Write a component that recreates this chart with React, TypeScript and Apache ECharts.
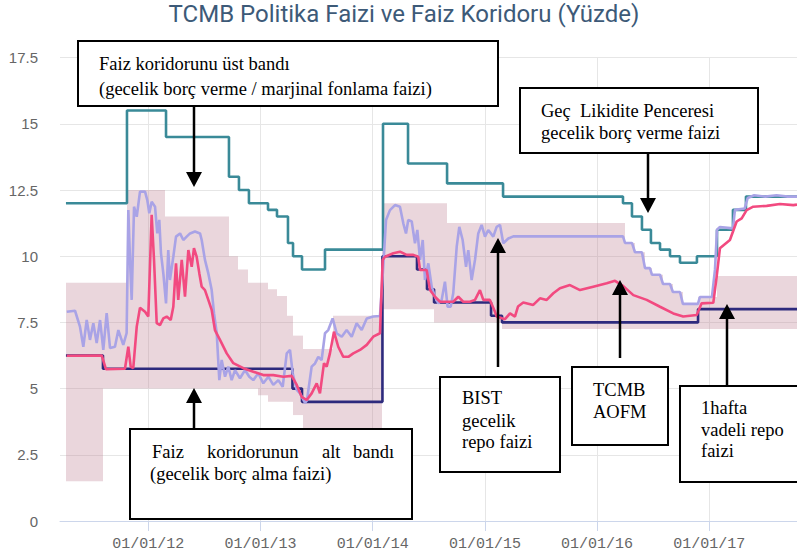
import React, { useEffect, useRef } from 'react';
import * as echarts from 'echarts';

const TITLE = 'TCMB Politika Faizi ve Faiz Koridoru (Yüzde)';
const X_MIN = 2011.213;
const X_MAX = 2017.782;
const xTickYears = [2012, 2013, 2014, 2015, 2016, 2017];
const xTickLabels = ['01/01/12', '01/01/13', '01/01/14', '01/01/15', '01/01/16', '01/01/17'];

// Late liquidity window lending rate (step changes: [year, %])
const lateLiquidityLending: [number, number][] = [
  [2011.266, 12.0], [2011.810, 15.5], [2012.158, 14.5], [2012.719, 13.0], [2012.808, 12.5],
  [2012.897, 12.0], [2013.067, 11.75], [2013.147, 11.5], [2013.245, 10.5], [2013.290, 10.0],
  [2013.370, 9.5], [2013.575, 10.25], [2014.092, 15.0], [2014.315, 13.5], [2014.663, 12.75],
  [2015.162, 12.25], [2016.231, 12.0], [2016.311, 11.5], [2016.400, 11.0], [2016.480, 10.5],
  [2016.561, 10.25], [2016.650, 10.0], [2016.739, 9.75], [2016.890, 10.0], [2017.069, 11.0],
  [2017.211, 11.75], [2017.327, 12.25], [2017.782, 12.25],
];

// One-week repo (policy) rate
const policyRate: [number, number][] = [
  [2011.266, 6.25], [2011.596, 5.75], [2013.285, 5.0], [2013.370, 4.5], [2014.087, 10.0],
  [2014.395, 9.5], [2014.484, 8.75], [2014.547, 8.25], [2015.055, 7.75], [2015.153, 7.5],
  [2016.900, 8.0], [2017.782, 8.0],
];

// Interest rate corridor (shaded)
const corridorDates = [
  2011.266, 2011.596, 2011.810, 2012.149, 2012.719, 2012.799, 2012.889, 2012.978, 2013.067,
  2013.147, 2013.236, 2013.290, 2013.379, 2013.646, 2014.087, 2014.547, 2014.663, 2015.153,
  2016.249, 2016.338, 2016.427, 2016.489, 2016.588, 2016.676, 2016.765, 2016.899, 2017.069,
  2017.782,
];
const corridorLower = [
  1.5, 5.0, 5.0, 5.0, 5.0, 5.0, 5.0, 4.75, 4.5,
  4.5, 4.5, 4.0, 3.5, 3.5, 8.0, 7.5, 7.5, 7.25,
  7.25, 7.25, 7.25, 7.25, 7.25, 7.25, 7.25, 7.25, 7.25,
  7.25,
];
const corridorUpper = [
  9.0, 9.0, 12.5, 11.5, 10.0, 9.5, 9.0, 9.0, 8.75,
  8.5, 7.75, 7.0, 6.5, 7.75, 12.0, 12.0, 11.25, 11.25,
  10.5, 10.15, 9.55, 9.3, 8.95, 8.65, 8.2, 8.46, 9.25,
  9.25,
];

// BIST overnight repo rate
const bistRepo: [number, number][] = [
  [2011.273, 7.90], [2011.347, 7.94], [2011.391, 7.34], [2011.421, 6.58], [2011.451, 7.59],
  [2011.480, 6.84], [2011.510, 7.47], [2011.540, 6.72], [2011.570, 7.59], [2011.599, 6.46],
  [2011.629, 7.85], [2011.659, 6.53], [2011.703, 6.58], [2011.733, 7.21], [2011.777, 6.65],
  [2011.807, 7.10], [2011.822, 11.74], [2011.837, 9.86], [2011.852, 8.35], [2011.873, 11.87],
  [2011.897, 11.49], [2011.926, 12.44], [2011.971, 12.44], [2011.991, 12.12], [2012.009, 11.62],
  [2012.030, 12.06], [2012.060, 11.87], [2012.080, 10.86], [2012.098, 11.37], [2012.113, 10.11],
  [2012.134, 9.35], [2012.158, 8.22], [2012.178, 10.23], [2012.193, 9.10], [2012.223, 9.98],
  [2012.247, 10.74], [2012.283, 10.86], [2012.312, 10.61], [2012.342, 10.74], [2012.372, 10.86],
  [2012.416, 10.93], [2012.461, 10.86], [2012.476, 10.61], [2012.505, 9.86], [2012.535, 9.35],
  [2012.565, 8.72], [2012.586, 7.84], [2012.610, 7.09], [2012.633, 5.32], [2012.654, 6.08],
  [2012.684, 5.45], [2012.713, 5.83], [2012.743, 5.32], [2012.773, 5.70], [2012.817, 5.39],
  [2012.862, 5.70], [2012.900, 5.45], [2012.936, 5.32], [2012.980, 5.58], [2013.025, 5.20],
  [2013.070, 5.45], [2013.114, 5.14], [2013.159, 5.32], [2013.198, 5.07], [2013.234, 6.33],
  [2013.263, 6.46], [2013.287, 5.58], [2013.323, 4.95], [2013.352, 4.82], [2013.397, 4.46],
  [2013.414, 4.55], [2013.456, 5.83], [2013.486, 5.95], [2013.515, 6.20], [2013.545, 6.08],
  [2013.575, 7.09], [2013.604, 7.21], [2013.643, 7.65], [2013.679, 7.09], [2013.724, 6.96],
  [2013.768, 7.21], [2013.813, 6.96], [2013.857, 7.47], [2013.902, 7.21], [2013.947, 7.65],
  [2014.005, 7.72], [2014.065, 7.74], [2014.094, 9.60], [2014.119, 11.37], [2014.154, 11.74],
  [2014.199, 11.93], [2014.243, 11.87], [2014.273, 11.24], [2014.297, 10.86], [2014.317, 11.37],
  [2014.348, 11.31], [2014.377, 10.49], [2014.398, 10.99], [2014.422, 9.86], [2014.446, 10.61],
  [2014.466, 9.10], [2014.496, 9.73], [2014.526, 8.85], [2014.555, 8.47], [2014.585, 8.22],
  [2014.615, 8.35], [2014.644, 9.04], [2014.668, 8.09], [2014.695, 8.09], [2014.718, 8.60],
  [2014.749, 10.36], [2014.772, 11.11], [2014.802, 10.61], [2014.832, 9.60], [2014.852, 10.23],
  [2014.882, 9.10], [2014.912, 9.86], [2014.941, 10.86], [2014.971, 11.18], [2015.001, 10.74],
  [2015.030, 10.99], [2015.075, 10.74], [2015.105, 11.11], [2015.135, 11.18], [2015.164, 10.49],
  [2015.209, 10.67], [2015.253, 10.75], [2016.231, 10.75], [2016.249, 10.5], [2016.311, 10.5],
  [2016.338, 10.15], [2016.400, 10.15], [2016.427, 9.55], [2016.471, 9.55], [2016.489, 9.3],
  [2016.561, 9.3], [2016.588, 8.95], [2016.650, 8.95], [2016.676, 8.65], [2016.739, 8.65],
  [2016.765, 8.2], [2016.899, 8.2], [2016.917, 8.46], [2017.024, 8.46], [2017.051, 9.5],
  [2017.069, 11.0], [2017.095, 11.1], [2017.211, 11.05], [2017.229, 11.75], [2017.315, 11.8],
  [2017.343, 12.2], [2017.400, 12.3], [2017.500, 12.25], [2017.600, 12.3], [2017.700, 12.25],
  [2017.782, 12.25],
];

// TCMB weighted average funding cost (AOFM)
const aofm: [number, number][] = [
  [2011.273, 6.24], [2011.585, 6.25], [2011.623, 5.73], [2011.792, 5.75], [2011.822, 6.58],
  [2011.843, 5.83], [2011.866, 5.77], [2011.897, 7.34], [2011.926, 8.05], [2011.971, 7.90],
  [2012.000, 7.72], [2012.030, 11.56], [2012.051, 9.86], [2012.075, 7.47], [2012.104, 7.40],
  [2012.134, 7.65], [2012.164, 7.72], [2012.200, 7.59], [2012.223, 8.09], [2012.247, 9.73],
  [2012.267, 8.35], [2012.298, 9.86], [2012.327, 8.47], [2012.357, 10.23], [2012.387, 9.60],
  [2012.407, 10.30], [2012.431, 9.98], [2012.455, 9.35], [2012.476, 8.85], [2012.505, 8.72],
  [2012.535, 8.35], [2012.565, 7.97], [2012.594, 7.21], [2012.639, 6.84], [2012.699, 6.33],
  [2012.758, 5.96], [2012.847, 5.77], [2012.936, 5.64], [2013.025, 5.51], [2013.114, 5.51],
  [2013.203, 5.45], [2013.278, 5.48], [2013.323, 5.14], [2013.367, 4.69], [2013.412, 4.57],
  [2013.456, 4.82], [2013.501, 5.20], [2013.530, 4.82], [2013.566, 5.96], [2013.590, 5.83],
  [2013.619, 6.33], [2013.655, 7.15], [2013.693, 6.58], [2013.738, 6.20], [2013.783, 6.20],
  [2013.827, 6.33], [2013.887, 6.46], [2013.947, 6.65], [2014.005, 6.96], [2014.065, 7.09],
  [2014.089, 9.86], [2014.110, 9.98], [2014.184, 10.11], [2014.243, 10.17], [2014.303, 10.05],
  [2014.362, 10.05], [2014.406, 9.98], [2014.422, 9.48], [2014.481, 9.48], [2014.511, 8.72],
  [2014.555, 8.47], [2014.600, 8.28], [2014.660, 8.28], [2014.718, 8.28], [2014.763, 8.47],
  [2014.807, 8.28], [2014.867, 8.28], [2014.912, 8.35], [2014.956, 8.72], [2014.986, 8.35],
  [2015.045, 8.35], [2015.090, 7.90], [2015.105, 7.72], [2015.179, 7.62], [2015.224, 7.84],
  [2015.268, 7.72], [2015.295, 8.10], [2015.342, 8.25], [2015.431, 8.16], [2015.491, 8.41],
  [2015.551, 8.35], [2015.610, 8.60], [2015.669, 8.79], [2015.758, 8.91], [2015.848, 8.72],
  [2015.966, 8.85], [2016.086, 8.98], [2016.160, 9.07], [2016.234, 8.87], [2016.323, 8.53],
  [2016.442, 8.35], [2016.561, 8.09], [2016.679, 7.84], [2016.768, 7.72], [2016.888, 7.78],
  [2016.932, 8.22], [2017.036, 8.24], [2017.066, 9.23], [2017.095, 10.30], [2017.184, 10.61],
  [2017.244, 11.31], [2017.289, 11.43], [2017.333, 11.74], [2017.392, 11.87], [2017.512, 11.90],
  [2017.630, 11.97], [2017.749, 11.93], [2017.782, 11.95],
];

const SERIF = '"Liberation Serif", "Times New Roman", serif';

function box(x: number, y: number, w: number, h: number) {
  return {
    type: 'rect', z: 100,
    shape: { x, y, width: w, height: h },
    style: { fill: '#fff', stroke: '#000', lineWidth: 2 },
  };
}
function label(text: string, x: number, baseline: number) {
  return {
    type: 'text', z: 101, x, y: baseline,
    style: {
      text, fill: '#000', font: '18.5px ' + SERIF,
      align: 'left', textAlign: 'left', verticalAlign: 'bottom', textVerticalAlign: 'bottom',
    },
  };
}
function arrow(x: number, yStart: number, yTip: number) {
  const dir = yTip > yStart ? 1 : -1;
  const base = yTip - dir * 15;
  return [
    { type: 'line', z: 100, shape: { x1: x, y1: yStart, x2: x, y2: base }, style: { stroke: '#000', lineWidth: 2.5 } },
    { type: 'polygon', z: 100, shape: { points: [[x - 8, base], [x + 8, base], [x, yTip]] }, style: { fill: '#000' } },
  ];
}

export default function App() {
  const ref = useRef<HTMLDivElement>(null);
  useEffect(() => {
    if (!ref.current) return;
    const chart = echarts.init(ref.current, undefined, { renderer: 'svg' });
    const corridorItems = corridorDates.slice(0, -1).map((d, i) => [d, corridorDates[i + 1], corridorLower[i], corridorUpper[i]]);
    const gridColor = '#e6e6e6';
    const option: any = {
      animation: false,
      title: {
        text: TITLE, left: 404, top: 2, textAlign: 'center', padding: 0,
        textStyle: { fontSize: 24, fontWeight: 'normal', color: '#3d5a78', fontFamily: "'Roboto', sans-serif" },
      },
      grid: { left: 60, right: 0, top: 57.6, bottom: 37, containLabel: false },
      xAxis: {
        type: 'value', min: X_MIN, max: X_MAX,
        axisLine: { show: true, lineStyle: { color: '#ccd6eb', width: 1 } },
        axisTick: { show: true, length: 10, customValues: xTickYears, lineStyle: { color: '#ccd6eb' } },
        axisLabel: {
          customValues: xTickYears, margin: 16, color: '#666', fontSize: 15,
          fontFamily: "'Liberation Mono', 'DejaVu Sans Mono', monospace",
          formatter: (v: number) => xTickLabels[xTickYears.indexOf(Math.round(v))] ?? '',
        },
        splitLine: { show: true, lineStyle: { color: gridColor, width: 1 } },
      },
      yAxis: {
        type: 'value', min: 0, max: 17.5, interval: 2.5,
        axisLine: { show: false }, axisTick: { show: false },
        axisLabel: { margin: 22, color: '#666', fontSize: 15, fontFamily: "'Liberation Sans', Arial, sans-serif" },
        splitLine: { show: true, lineStyle: { color: gridColor, width: 1 } },
      },
      series: [
        {
          name: 'Faiz koridoru', type: 'custom', data: corridorItems,
          encode: { x: [0, 1], y: [2, 3] }, silent: true, z: 1, clip: true,
          renderItem: (_params: any, api: any) => {
            const p1 = api.coord([api.value(0), api.value(3)]);
            const p2 = api.coord([api.value(1), api.value(2)]);
            const x1 = Math.round(p1[0]);
            const x2 = Math.round(p2[0]);
            return {
              type: 'rect',
              shape: { x: x1, y: p1[1], width: x2 - x1, height: p2[1] - p1[1] },
              style: { fill: 'rgba(190,130,150,0.33)' },
            };
          },
        },
        {
          name: 'Geç Likidite Penceresi borç verme', type: 'line', step: 'end', data: lateLiquidityLending,
          symbol: 'none', lineStyle: { color: '#3a8a98', width: 2.6 }, z: 3,
        },
        {
          name: '1 hafta vadeli repo', type: 'line', step: 'end', data: policyRate,
          symbol: 'none', lineStyle: { color: '#2d2a7d', width: 2.6 }, z: 4,
        },
        {
          name: 'BIST gecelik repo', type: 'line', data: bistRepo,
          symbol: 'none', lineStyle: { color: '#a9a3e6', width: 2.6 }, z: 5,
        },
        {
          name: 'TCMB AOFM', type: 'line', data: aofm,
          symbol: 'none', lineStyle: { color: '#f24a80', width: 2.6 }, z: 6,
        },
      ],
      graphic: {
        elements: [
          box(78, 41, 420, 65),
          label('Faiz koridorunu üst bandı', 99, 73),
          label('(gecelik borç verme / marjinal fonlama faizi)', 99, 98),
          ...arrow(194, 106, 187),

          box(130, 429, 282, 90),
          label('Faiz', 152, 461),
          label('koridorunun', 207, 461),
          label('alt', 322, 461),
          label('bandı', 353, 461),
          label('(gecelik borç alma faizi)', 150, 483),
          ...arrow(194, 429, 388),

          box(520, 88, 238, 65),
          label('Geç  Likidite Penceresi', 541, 120),
          label('gecelik borç verme faizi', 541, 142),
          ...arrow(648, 153, 213),

          box(440, 377, 120, 95),
          label('BIST', 462, 407),
          label('gecelik', 462, 430),
          label('repo faizi', 462, 451),
          ...arrow(498, 367, 238),

          box(572, 367, 96, 78),
          label('TCMB', 593, 399),
          label('AOFM', 593, 421),
          ...arrow(620, 358, 280),

          box(680, 386, 125, 96),
          label('1hafta', 701, 417),
          label('vadeli repo', 701, 439),
          label('faizi', 701, 460),
          ...arrow(727, 386, 304),
        ],
      },
    };
    chart.setOption(option);
    return () => chart.dispose();
  }, []);
  return <div ref={ref} style={{ position: 'fixed', left: 0, top: 0, width: 797, height: 558, background: '#fff' }} />;
}
